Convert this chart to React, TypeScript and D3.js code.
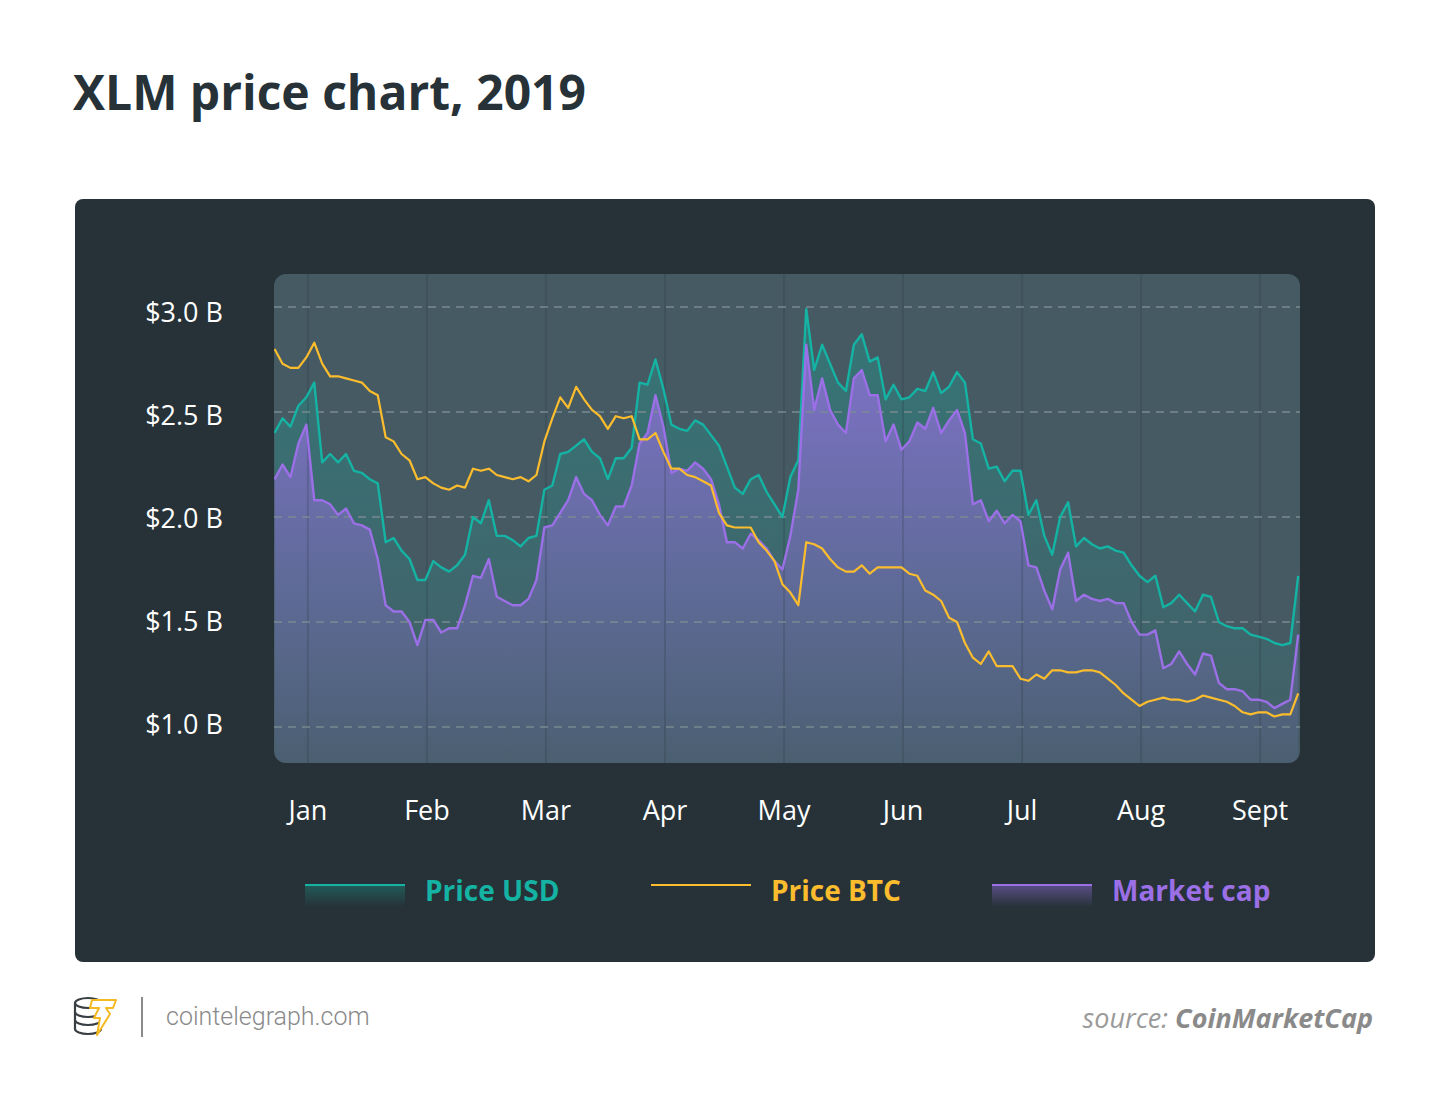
import * as d3 from "d3";
import React from "react";

// month labels on the x axis (equally spaced)
const monthLabels = ["Jan", "Feb", "Mar", "Apr", "May", "Jun", "Jul", "Aug", "Sept"];
const yTicks = [1.0, 1.5, 2.0, 2.5, 3.0];

// samples start a bit before Jan and are taken every 1/15 of a month
const startMonth = -0.28;
const stepMonth = 1 / 15;

// values, in the units of the $B axis
const priceUsd = [
  2.40, 2.47, 2.43, 2.53, 2.57, 2.64, 2.26, 2.30, 2.26, 2.30,
  2.22, 2.21, 2.18, 2.16, 1.88, 1.90, 1.84, 1.80, 1.70, 1.70,
  1.79, 1.76, 1.74, 1.77, 1.82, 2.00, 1.97, 2.08, 1.91, 1.91,
  1.89, 1.86, 1.90, 1.91, 2.13, 2.15, 2.30, 2.31, 2.34, 2.37,
  2.31, 2.28, 2.18, 2.28, 2.28, 2.33, 2.64, 2.63, 2.75, 2.61,
  2.44, 2.42, 2.41, 2.46, 2.44, 2.39, 2.34, 2.24, 2.14, 2.11,
  2.18, 2.20, 2.12, 2.06, 2.00, 2.19, 2.27, 2.99, 2.70, 2.82,
  2.73, 2.64, 2.60, 2.82, 2.87, 2.74, 2.76, 2.56, 2.63, 2.56,
  2.57, 2.61, 2.60, 2.69, 2.59, 2.62, 2.69, 2.64, 2.37, 2.35,
  2.23, 2.24, 2.17, 2.22, 2.22, 2.01, 2.08, 1.91, 1.82, 2.00,
  2.07, 1.86, 1.90, 1.87, 1.85, 1.86, 1.84, 1.83, 1.77, 1.72,
  1.69, 1.72, 1.57, 1.59, 1.63, 1.59, 1.55, 1.63, 1.62, 1.50,
  1.48, 1.47, 1.47, 1.44, 1.43, 1.42, 1.40, 1.39, 1.40, 1.72,
];

const priceBtc = [
  2.80, 2.73, 2.71, 2.71, 2.76, 2.83, 2.73, 2.67, 2.67, 2.66,
  2.65, 2.64, 2.60, 2.58, 2.38, 2.36, 2.30, 2.27, 2.18, 2.19,
  2.16, 2.14, 2.13, 2.15, 2.14, 2.23, 2.22, 2.23, 2.20, 2.19,
  2.18, 2.19, 2.17, 2.20, 2.36, 2.47, 2.57, 2.52, 2.62, 2.56,
  2.51, 2.48, 2.42, 2.48, 2.47, 2.48, 2.37, 2.37, 2.40, 2.31,
  2.23, 2.23, 2.20, 2.19, 2.17, 2.15, 2.02, 1.96, 1.95, 1.95,
  1.95, 1.88, 1.84, 1.79, 1.68, 1.64, 1.58, 1.88, 1.87, 1.85,
  1.80, 1.76, 1.74, 1.74, 1.77, 1.73, 1.76, 1.76, 1.76, 1.76,
  1.73, 1.72, 1.65, 1.63, 1.60, 1.52, 1.50, 1.40, 1.33, 1.30,
  1.36, 1.29, 1.29, 1.29, 1.23, 1.22, 1.25, 1.23, 1.27, 1.27,
  1.26, 1.26, 1.27, 1.27, 1.26, 1.23, 1.20, 1.16, 1.13, 1.10,
  1.12, 1.13, 1.14, 1.13, 1.13, 1.12, 1.13, 1.15, 1.14, 1.13,
  1.12, 1.10, 1.07, 1.06, 1.07, 1.07, 1.05, 1.06, 1.06, 1.16,
];

const marketCap = [
  2.18, 2.25, 2.19, 2.35, 2.44, 2.08, 2.08, 2.06, 2.01, 2.04,
  1.97, 1.96, 1.94, 1.80, 1.58, 1.55, 1.55, 1.50, 1.39, 1.51,
  1.51, 1.45, 1.47, 1.47, 1.58, 1.72, 1.71, 1.80, 1.62, 1.60,
  1.58, 1.58, 1.61, 1.70, 1.95, 1.96, 2.02, 2.08, 2.19, 2.11,
  2.08, 2.01, 1.96, 2.05, 2.05, 2.15, 2.35, 2.40, 2.58, 2.43,
  2.21, 2.23, 2.22, 2.26, 2.23, 2.18, 2.06, 1.88, 1.88, 1.85,
  1.92, 1.89, 1.85, 1.79, 1.75, 1.91, 2.13, 2.82, 2.51, 2.66,
  2.51, 2.44, 2.40, 2.66, 2.70, 2.58, 2.58, 2.36, 2.44, 2.32,
  2.36, 2.45, 2.42, 2.52, 2.40, 2.46, 2.51, 2.40, 2.06, 2.08,
  1.98, 2.03, 1.97, 2.01, 1.98, 1.77, 1.76, 1.65, 1.56, 1.75,
  1.83, 1.60, 1.63, 1.61, 1.60, 1.61, 1.59, 1.59, 1.50, 1.44,
  1.44, 1.46, 1.28, 1.30, 1.36, 1.30, 1.25, 1.35, 1.34, 1.21,
  1.18, 1.18, 1.17, 1.13, 1.13, 1.12, 1.09, 1.11, 1.13, 1.44,
];

const TEAL = "#14b3a3";
const GOLD = "#fbbd2e";
const PURPLE = "#9b6fe6";
const FONT = "'Open Sans', sans-serif";

const plot = { left: 274, right: 1300, top: 274, bottom: 763 };

export default function App() {
  const x = d3.scaleLinear().domain([-0.285, 8.335]).range([plot.left, plot.right]);
  const y = d3.scaleLinear().domain([1, 3]).range([727, 307]);
  // tick labels sit a touch tighter than the grid
  const yLabel = d3.scaleLinear().domain([1, 3]).range([724, 312]);
  const xAt = (i: number) => x(startMonth + i * stepMonth);

  const line = d3
    .line<number>()
    .x((d, i) => xAt(i))
    .y((d) => y(d));
  const area = d3
    .area<number>()
    .x((d, i) => xAt(i))
    .y0(plot.bottom)
    .y1((d) => y(d));

  const legend = [
    { label: "Price USD", color: TEAL, x: 305, fill: "url(#legTeal)" },
    { label: "Price BTC", color: GOLD, x: 651, fill: "none" },
    { label: "Market cap", color: PURPLE, x: 992, fill: "url(#legPurple)" },
  ];

  return (
    <svg
      width={1450}
      height={1103}
      style={{ position: "absolute", left: 0, top: 0, display: "block" }}
    >
      <defs>
        <clipPath id="plotClip">
          <rect x={plot.left} y={plot.top} width={plot.right - plot.left} height={plot.bottom - plot.top} rx={12} />
        </clipPath>
        <linearGradient id="tealFill" gradientUnits="userSpaceOnUse" x1={0} y1={300} x2={0} y2={763}>
          <stop offset="0%" stopColor="#1aa596" stopOpacity={0.38} />
          <stop offset="100%" stopColor="#1aa596" stopOpacity={0.05} />
        </linearGradient>
        <linearGradient id="purpleFill" gradientUnits="userSpaceOnUse" x1={0} y1={330} x2={0} y2={763}>
          <stop offset="0%" stopColor="#9b6fe6" stopOpacity={0.75} />
          <stop offset="100%" stopColor="#9b6fe6" stopOpacity={0.08} />
        </linearGradient>
        <linearGradient id="legTeal" x1={0} y1={0} x2={0} y2={1}>
          <stop offset="0%" stopColor="#1aa596" stopOpacity={0.35} />
          <stop offset="100%" stopColor="#1aa596" stopOpacity={0} />
        </linearGradient>
        <linearGradient id="legPurple" x1={0} y1={0} x2={0} y2={1}>
          <stop offset="0%" stopColor="#9b6fe6" stopOpacity={0.45} />
          <stop offset="100%" stopColor="#9b6fe6" stopOpacity={0} />
        </linearGradient>
      </defs>

      <rect x={0} y={0} width={1450} height={1103} fill="#ffffff" />

      {/* Title */}
      <text x={73} y={110} fontFamily={FONT} fontWeight={700} fontSize={48} fill="#263238">
        XLM price chart, 2019
      </text>

      {/* Card */}
      <rect x={75} y={199} width={1300} height={763} rx={8} fill="#263238" />

      {/* Plot background */}
      <rect
        x={plot.left}
        y={plot.top}
        width={plot.right - plot.left}
        height={plot.bottom - plot.top}
        rx={12}
        fill="#465a64"
      />

      <g clipPath="url(#plotClip)">
        <path d={area(priceUsd) || ""} fill="url(#tealFill)" />
        <path d={area(marketCap) || ""} fill="url(#purpleFill)" />

        {/* vertical month lines */}
        {monthLabels.map((m, i) => (
          <line
            key={m}
            x1={x(i)}
            x2={x(i)}
            y1={plot.top}
            y2={plot.bottom}
            stroke="#263238"
            strokeOpacity={0.2}
            strokeWidth={2}
          />
        ))}

        {/* dashed horizontal grid */}
        {yTicks.map((t) => (
          <line
            key={t}
            x1={plot.left}
            x2={plot.right}
            y1={y(t)}
            y2={y(t)}
            stroke="#7a8b93"
            strokeOpacity={0.7}
            strokeWidth={2}
            strokeDasharray="8 6"
          />
        ))}

        <path d={line(priceUsd) || ""} fill="none" stroke={TEAL} strokeWidth={2.4} strokeLinejoin="round" />
        <path d={line(marketCap) || ""} fill="none" stroke={PURPLE} strokeWidth={2.4} strokeLinejoin="round" />
        <path d={line(priceBtc) || ""} fill="none" stroke={GOLD} strokeWidth={2.2} strokeLinejoin="round" />
      </g>

      {/* Y axis labels */}
      {yTicks.map((t) => (
        <text
          key={t}
          x={223}
          y={yLabel(t)}
          dy="0.36em"
          textAnchor="end"
          fontFamily={FONT}
          fontSize={27}
          fill="#ffffff"
        >
          {`$${t.toFixed(1)} B`}
        </text>
      ))}

      {/* X axis labels */}
      {monthLabels.map((m, i) => (
        <text
          key={m}
          x={x(i)}
          y={820}
          textAnchor="middle"
          fontFamily={FONT}
          fontSize={27}
          fill="#ffffff"
        >
          {m}
        </text>
      ))}

      {/* Legend */}
      {legend.map((l) => (
        <g key={l.label}>
          <rect x={l.x} y={885} width={100} height={22} fill={l.fill} />
          <line x1={l.x} x2={l.x + 100} y1={885} y2={885} stroke={l.color} strokeWidth={2} />
          <text x={l.x + 120} y={901} fontFamily={FONT} fontWeight={700} fontSize={28} fill={l.color}>
            {l.label}
          </text>
        </g>
      ))}

      {/* Footer logo */}
      <g fill="none" stroke="#3a3f44" strokeWidth={2.2}>
        <ellipse cx={88} cy={1003} rx={13} ry={5} />
        <path d="M75,1003 v26 a13,5 0 0 0 26,0" />
        <path d="M75,1012 a13,5 0 0 0 26,0" />
        <path d="M75,1020 a13,5 0 0 0 26,0" />
      </g>
      <path
        d="M92,1000 L116,1000 L113,1008 L106,1008 L110,1014 L97,1035 L100,1018 L94,1018 L99,1008 L90,1008 Z"
        fill="#ffffff"
        stroke="#f5b921"
        strokeWidth={2}
        strokeLinejoin="round"
      />
      <line x1={142} x2={142} y1={997} y2={1037} stroke="#8a8a8a" strokeWidth={2} />
      <text x={166} y={1025} fontFamily="Roboto, sans-serif" fontWeight={300} fontSize={25} fill="#8a8a8a">
        cointelegraph.com
      </text>

      <text
        x={1373}
        y={1028}
        textAnchor="end"
        fontFamily={FONT}
        fontStyle="italic"
        fontSize={27}
        fill="#9a9a9a"
      >
        <tspan fontWeight={400}>source: </tspan>
        <tspan fontWeight={700} fill="#8a8a8a">CoinMarketCap</tspan>
      </text>
    </svg>
  );
}
